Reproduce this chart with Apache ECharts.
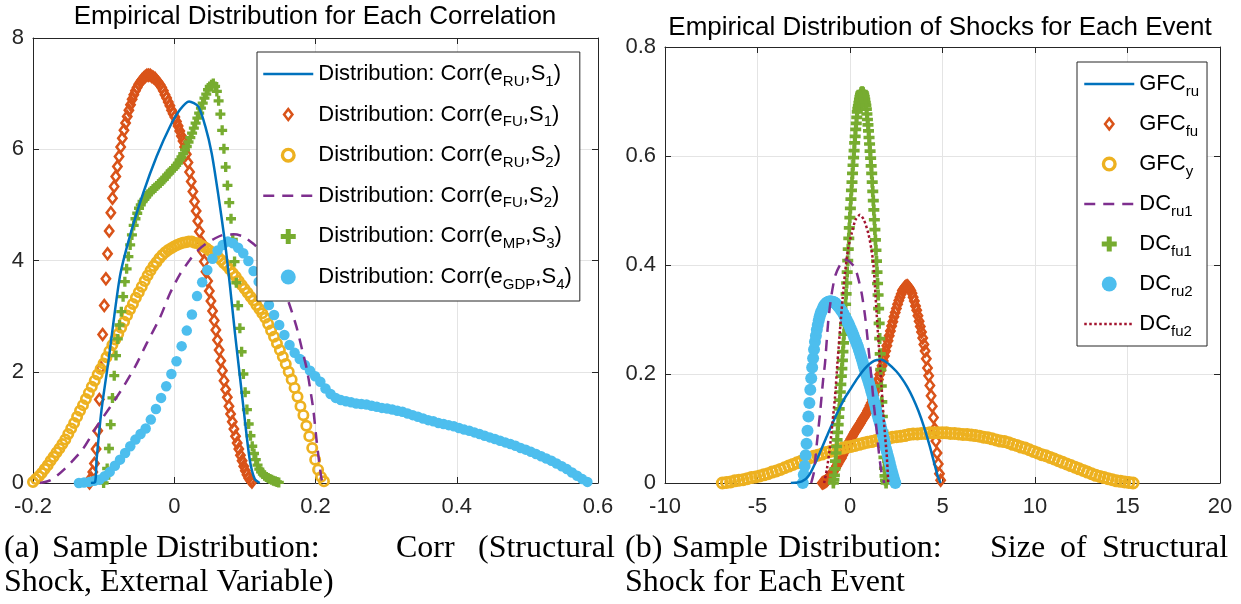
<!DOCTYPE html>
<html><head><meta charset="utf-8">
<script src="https://cdn.jsdelivr.net/npm/echarts@6/dist/echarts.min.js"></script>
<style>html,body{margin:0;padding:0;background:#fff}#c{width:1241px;height:604px}</style>
</head><body><div id="c"></div><script>
// ---------------- DATA: panel (a) ----------------
const aNames = ['Distribution: Corr(e_{RU},S_{1})','Distribution: Corr(e_{FU},S_{1})','Distribution: Corr(e_{RU},S_{2})','Distribution: Corr(e_{FU},S_{2})','Distribution: Corr(e_{MP},S_{3})','Distribution: Corr(e_{GDP},S_{4})'];
// solid line: x / y pairs
const aS1X = [-0.118,-0.112,-0.110,-0.103,-0.093,-0.077,-0.063,-0.044,-0.025,-0.006,0.008,0.021,0.034,0.044,0.053,0.062,0.072,0.079,0.086,0.093,0.100,0.107,0.114,0.121];
const aS1Y = [0,0.02,0.41,1.31,2.21,3.71,4.43,5.21,5.87,6.41,6.71,6.86,6.77,6.41,5.93,5.21,4.31,3.53,2.69,1.91,1.13,0.41,0.07,0];
// marker series: 100-point evenly spaced density grid [start, end] + values
const aS2Range = [-0.120, 0.110];
const aS2Y = [0.00,0.09,0.20,0.35,0.61,0.94,1.50,2.07,2.67,3.19,3.67,4.12,4.53,4.86,5.12,5.33,5.51,5.69,5.87,6.04,6.20,6.34,6.47,6.59,6.70,6.80,6.90,6.98,7.05,7.11,7.17,7.21,7.25,7.28,7.31,7.33,7.33,7.33,7.31,7.29,7.27,7.23,7.20,7.16,7.11,7.05,6.98,6.92,6.85,6.78,6.70,6.64,6.58,6.50,6.42,6.33,6.24,6.15,6.04,5.91,5.76,5.59,5.42,5.24,5.06,4.89,4.71,4.52,4.34,4.16,3.98,3.80,3.63,3.45,3.27,3.09,2.92,2.75,2.57,2.39,2.20,2.02,1.84,1.68,1.54,1.38,1.24,1.10,0.97,0.84,0.72,0.61,0.50,0.40,0.30,0.22,0.15,0.09,0.05,0.02];
const aS3Range = [-0.200, 0.212];
const aS3Y = [0.02,0.07,0.12,0.18,0.25,0.32,0.40,0.47,0.55,0.62,0.70,0.78,0.88,0.98,1.08,1.19,1.30,1.40,1.51,1.62,1.73,1.84,1.95,2.05,2.15,2.26,2.37,2.48,2.58,2.68,2.79,2.90,3.01,3.12,3.22,3.33,3.43,3.53,3.63,3.73,3.82,3.90,3.97,4.04,4.10,4.15,4.19,4.22,4.25,4.28,4.30,4.32,4.33,4.34,4.34,4.32,4.31,4.28,4.25,4.22,4.18,4.14,4.10,4.06,4.01,3.95,3.90,3.84,3.77,3.71,3.63,3.56,3.49,3.42,3.35,3.28,3.20,3.13,3.05,2.97,2.86,2.74,2.63,2.51,2.39,2.27,2.14,2.00,1.86,1.71,1.55,1.38,1.22,1.03,0.84,0.63,0.42,0.24,0.11,0.03];
const aS4X = [-0.19,-0.175,-0.157,-0.13,-0.11,-0.09,-0.072,-0.055,-0.039,-0.02,-0.006,0.008,0.022,0.035,0.046,0.058,0.069,0.084,0.098,0.112,0.126,0.138,0.15,0.162,0.173,0.181,0.188,0.193,0.197,0.202,0.206,0.209,0.212];
const aS4Y = [0,0.05,0.23,0.6,1.01,1.38,1.73,2.1,2.51,2.98,3.41,3.75,4.01,4.2,4.31,4.4,4.46,4.47,4.43,4.3,4.13,3.92,3.65,3.25,2.81,2.4,2.03,1.65,1.31,0.71,0.3,0.05,0];
const aS5Range = [-0.100, 0.148];
const aS5Y = [0.00,0.09,0.26,0.62,1.05,1.53,1.93,2.29,2.59,2.84,3.08,3.35,3.62,3.85,4.07,4.28,4.46,4.63,4.75,4.85,4.94,5.00,5.06,5.10,5.14,5.18,5.22,5.25,5.28,5.31,5.34,5.37,5.40,5.43,5.46,5.50,5.54,5.57,5.61,5.64,5.67,5.71,5.75,5.81,5.86,5.92,5.99,6.05,6.13,6.21,6.29,6.38,6.47,6.56,6.65,6.74,6.83,6.92,6.99,7.07,7.13,7.16,7.18,7.13,7.04,6.87,6.63,6.34,6.01,5.68,5.35,5.04,4.75,4.38,3.98,3.60,3.19,2.78,2.36,1.96,1.63,1.32,1.06,0.85,0.66,0.53,0.42,0.32,0.25,0.20,0.16,0.13,0.11,0.09,0.07,0.06,0.04,0.03,0.02,0.01];
const aS6Range = [-0.135, 0.585];
const aS6Y = [0.00,0.01,0.02,0.04,0.06,0.12,0.20,0.31,0.42,0.54,0.66,0.78,0.88,0.98,1.14,1.33,1.53,1.74,1.96,2.19,2.46,2.74,3.03,3.36,3.61,3.83,4.03,4.18,4.28,4.34,4.31,4.23,4.13,3.99,3.81,3.62,3.40,3.20,3.02,2.84,2.66,2.48,2.34,2.23,2.12,2.02,1.92,1.82,1.70,1.60,1.53,1.49,1.47,1.45,1.43,1.42,1.41,1.39,1.37,1.35,1.34,1.32,1.30,1.28,1.25,1.22,1.19,1.16,1.13,1.11,1.08,1.06,1.04,1.02,0.99,0.96,0.94,0.91,0.88,0.85,0.82,0.79,0.76,0.73,0.70,0.67,0.63,0.60,0.56,0.52,0.48,0.44,0.40,0.35,0.30,0.25,0.19,0.13,0.07,0.02];
const aXAxis = {min: -0.2, max: 0.6, interval: 0.2};
const aYAxis = {min: 0, max: 8, interval: 2};

// ---------------- DATA: panel (b) ----------------
const bNames = ['GFC_{ru}','GFC_{fu}','GFC_{y}','DC_{ru1}','DC_{fu1}','DC_{ru2}','DC_{fu2}'];
const bS1X = [-3.2,-2.6,-2.2,-1.7,-1.2,-0.7,-0.3,0.0,0.4,0.8,1.3,1.7,2.1,2.5,2.8,3.1,3.4,3.7,4.0,4.3,4.55,4.75,4.9];
const bS1Y = [0,0.003,0.015,0.05,0.09,0.128,0.155,0.171,0.192,0.21,0.224,0.226,0.218,0.205,0.192,0.176,0.156,0.132,0.103,0.069,0.037,0.012,0];
const bS2Range = [-1.5, 4.9];
const bS2Y = [0.000,0.001,0.002,0.003,0.005,0.008,0.011,0.014,0.017,0.020,0.024,0.027,0.031,0.035,0.039,0.043,0.046,0.051,0.055,0.060,0.064,0.069,0.073,0.077,0.081,0.085,0.089,0.093,0.096,0.100,0.103,0.107,0.110,0.114,0.118,0.121,0.125,0.128,0.133,0.137,0.142,0.147,0.153,0.161,0.168,0.176,0.183,0.190,0.199,0.207,0.215,0.224,0.233,0.242,0.252,0.261,0.270,0.279,0.288,0.296,0.305,0.313,0.320,0.328,0.335,0.341,0.347,0.353,0.356,0.359,0.361,0.362,0.360,0.357,0.353,0.348,0.341,0.334,0.325,0.317,0.307,0.297,0.287,0.277,0.266,0.254,0.242,0.228,0.211,0.197,0.179,0.160,0.141,0.120,0.099,0.077,0.055,0.035,0.017,0.005];
const bS3Range = [-6.9, 15.3];
const bS3Y = [0.000,0.001,0.002,0.004,0.005,0.006,0.008,0.010,0.011,0.013,0.015,0.017,0.020,0.022,0.025,0.028,0.031,0.034,0.037,0.040,0.043,0.046,0.049,0.051,0.053,0.056,0.058,0.060,0.062,0.064,0.066,0.067,0.069,0.071,0.073,0.075,0.076,0.078,0.079,0.081,0.082,0.084,0.085,0.086,0.087,0.089,0.090,0.090,0.091,0.091,0.092,0.092,0.092,0.092,0.092,0.091,0.091,0.090,0.089,0.089,0.088,0.087,0.086,0.084,0.083,0.081,0.079,0.077,0.076,0.074,0.071,0.069,0.066,0.064,0.061,0.058,0.055,0.052,0.050,0.047,0.044,0.041,0.038,0.035,0.032,0.029,0.026,0.023,0.020,0.017,0.014,0.012,0.010,0.008,0.006,0.004,0.003,0.002,0.001,0.000];
const bS4X = [-2.1,-1.95,-1.8,-1.62,-1.45,-1.35,-1.17,-1.0,-0.8,-0.54,-0.3,-0.1,0.1,0.27,0.45,0.63,0.8,0.9,1.05,1.17,1.3,1.44,1.58,1.71,1.85];
const bS4Y = [0,0.02,0.07,0.128,0.19,0.22,0.299,0.345,0.38,0.4,0.41,0.408,0.402,0.395,0.375,0.348,0.31,0.281,0.23,0.189,0.14,0.097,0.05,0.018,0];
const bS5Range = [-0.9, 1.95];
const bS5Y = [0.000,0.006,0.014,0.026,0.040,0.055,0.067,0.079,0.093,0.107,0.121,0.136,0.152,0.167,0.181,0.196,0.210,0.225,0.241,0.257,0.273,0.291,0.308,0.328,0.347,0.367,0.387,0.408,0.429,0.449,0.468,0.487,0.504,0.521,0.537,0.552,0.568,0.583,0.597,0.610,0.624,0.636,0.649,0.660,0.671,0.681,0.687,0.692,0.698,0.704,0.709,0.713,0.716,0.717,0.718,0.717,0.716,0.713,0.709,0.704,0.698,0.693,0.686,0.677,0.667,0.657,0.646,0.634,0.622,0.609,0.596,0.582,0.568,0.552,0.535,0.518,0.501,0.483,0.465,0.446,0.427,0.407,0.387,0.366,0.345,0.320,0.293,0.265,0.237,0.208,0.178,0.149,0.122,0.095,0.067,0.047,0.027,0.013,0.005,0.000];
const bS6Range = [-2.55, 2.45];
const bS6Y = [0.000,0.015,0.031,0.051,0.072,0.096,0.122,0.147,0.171,0.192,0.212,0.229,0.245,0.259,0.270,0.281,0.290,0.298,0.305,0.311,0.315,0.319,0.323,0.326,0.328,0.330,0.331,0.332,0.333,0.333,0.333,0.333,0.332,0.332,0.331,0.330,0.328,0.326,0.324,0.322,0.320,0.317,0.315,0.312,0.309,0.305,0.302,0.299,0.295,0.292,0.288,0.284,0.280,0.276,0.272,0.267,0.263,0.259,0.254,0.250,0.244,0.239,0.233,0.228,0.222,0.216,0.210,0.204,0.198,0.193,0.188,0.182,0.176,0.170,0.164,0.158,0.151,0.145,0.138,0.132,0.125,0.119,0.113,0.107,0.100,0.093,0.086,0.079,0.071,0.063,0.057,0.050,0.044,0.037,0.030,0.023,0.017,0.011,0.005,0.000];
const bS7X = [-1.4,-1.25,-1.08,-0.95,-0.81,-0.68,-0.54,-0.4,-0.27,-0.1,0.09,0.3,0.54,0.75,0.99,1.15,1.26,1.35,1.44,1.53,1.62,1.71,1.8,1.9,1.98,2.07];
const bS7Y = [0,0.025,0.067,0.11,0.158,0.22,0.281,0.338,0.385,0.43,0.458,0.483,0.492,0.483,0.458,0.43,0.403,0.36,0.311,0.265,0.22,0.173,0.128,0.085,0.054,0];
const bXAxis = {min: -10, max: 20, interval: 5};
const bYAxis = {min: 0, max: 0.8, interval: 0.2};

// ---------------- TEXT ----------------
const titleA = 'Empirical Distribution for Each Correlation';
const titleB = 'Empirical Distribution of Shocks for Each Event';
const capA1 = ['(a)','Sample','Distribution:','Corr','(Structural'];
const capA2 = 'Shock, External Variable)';
const capB1 = ['(b)','Sample','Distribution:','Size','of','Structural'];
const capB2 = 'Shock for Each Event';

// ---------------- STYLE / LAYOUT ----------------
const F = 'Liberation Sans', SERIF = 'Liberation Serif', AX = '#262626', GRIDC = '#e4e4e4';
const C = {blue:'#0072BD', orange:'#D95319', yellow:'#EDB120', purple:'#7E2F8E', green:'#77AC30', cyan:'#4DBEEE', red:'#A2142F'};
const SYM = {
  diamond: 'path://M5,0L10,6.5L5,13L0,6.5Z M5,3.6L2.75,6.5L5,9.4L7.25,6.5Z',
  ring: 'path://M6,0A6,6 0 1 1 6,12A6,6 0 1 1 6,0Z M6,2.7A3.3,3.3 0 1 0 6,9.3A3.3,3.3 0 1 0 6,2.7Z',
  plus: 'path://M3,0H6V3H9V6H6V9H3V6H0V3H3Z'
};
const capA1X = [4,52,156,396,478], capB1X = [625,672,778,990,1060,1102];
const CAPSIZE = 32;

function grid(range, ys){ const n = ys.length; return ys.map((y,i)=>[range[0]+(range[1]-range[0])*i/(n-1), y]); }
function pairs(xs, ys){ return xs.map((x,i)=>[x, ys[i]]); }

function axesX(gi, r){
  return [
    {type:'value', gridIndex:gi, min:r.min, max:r.max, interval:r.interval, position:'bottom',
     axisLine:{show:true,onZero:false,lineStyle:{color:AX,width:1}},
     axisTick:{show:true,inside:true,length:6,lineStyle:{color:AX}},
     axisLabel:{show:true,color:AX,fontSize:22,fontFamily:F,margin:13,hideOverlap:false},
     splitLine:{show:true,lineStyle:{color:GRIDC,width:1}}},
    {type:'value', gridIndex:gi, min:r.min, max:r.max, interval:r.interval, position:'top',
     axisLine:{show:true,onZero:false,lineStyle:{color:AX,width:1}},
     axisTick:{show:true,inside:true,length:6,lineStyle:{color:AX}},
     axisLabel:{show:false}, splitLine:{show:false}}
  ];
}
function axesY(gi, r){
  return [
    {type:'value', gridIndex:gi, min:r.min, max:r.max, interval:r.interval, position:'left',
     axisLine:{show:true,onZero:false,lineStyle:{color:AX,width:1}},
     axisTick:{show:true,inside:true,length:6,lineStyle:{color:AX}},
     axisLabel:{show:true,color:AX,fontSize:22,fontFamily:F,margin:9,hideOverlap:false},
     splitLine:{show:true,lineStyle:{color:GRIDC,width:1}}},
    {type:'value', gridIndex:gi, min:r.min, max:r.max, interval:r.interval, position:'right',
     axisLine:{show:true,onZero:false,lineStyle:{color:AX,width:1}},
     axisTick:{show:true,inside:true,length:6,lineStyle:{color:AX}},
     axisLabel:{show:false}, splitLine:{show:false}}
  ];
}
function lineS(name, ax, data, color, type){
  return {type:'line', name, xAxisIndex:ax, yAxisIndex:ax, data, symbol:'none', showSymbol:false, smooth:0.25,
    lineStyle:{color, width:2.5, type:type||'solid', cap:'butt'}, itemStyle:{color, opacity:0},
    silent:true, animation:false, emphasis:{disabled:true}};
}
function dotS(name, ax, data, color, symbol, size){
  return {type:'scatter', name, xAxisIndex:ax, yAxisIndex:ax, data, symbol, symbolSize:size,
    itemStyle:{color, opacity:1}, silent:true, animation:false, emphasis:{disabled:true}};
}
const rich = {
  n:{fontSize:22, fontFamily:F, color:'#000', lineHeight:26, verticalAlign:'middle'},
  s:{fontSize:15, fontFamily:F, color:'#000', lineHeight:26, verticalAlign:'middle', padding:[15,0,0,0]}
};
function fmt(name){ return '{n|' + name.replace(/_\{([^}]*)\}/g, '}{s|$1}{n|') + '}'; }
function legend(names, left, top, gap, padding){
  return {data:names, orient:'vertical', left, top, padding, itemGap:gap, itemWidth:50, itemHeight:15,
    borderColor:AX, borderWidth:1, backgroundColor:'#fff', selectedMode:false, symbolKeepAspect:true,
    formatter:fmt, textStyle:{fontSize:22, fontFamily:F, color:'#000', rich},
    itemStyle:{borderWidth:0}, lineStyle:{width:2.5}, z:10};
}
const gText = (text, x, y, size, fam, align) => ({type:'text', x, y, silent:true,
  style:{text, fill:'#000', fontSize:size, fontFamily:fam, align:align||'left', textAlign:align||'left', verticalAlign:'middle', textVerticalAlign:'middle'}});

const graphic = [gText(titleA, 315, 17, 26, F, 'center'), gText(titleB, 940, 28, 26, F, 'center'),
  gText(capA2, 4, 583, CAPSIZE, SERIF), gText(capB2, 625, 583, CAPSIZE, SERIF)];
capA1.forEach((w,i)=>graphic.push(gText(w, capA1X[i], 549, CAPSIZE, SERIF)));
capB1.forEach((w,i)=>graphic.push(gText(w, capB1X[i], 549, CAPSIZE, SERIF)));

const option = {
  animation:false, backgroundColor:'#fff',
  grid:[
    {left:33, top:38, width:565, height:445, containLabel:false, outerBoundsMode:'none'},
    {left:665, top:47, width:555, height:436, containLabel:false, outerBoundsMode:'none'}
  ],
  xAxis:[...axesX(0, aXAxis), ...axesX(1, bXAxis)],
  yAxis:[...axesY(0, aYAxis), ...axesY(1, bYAxis)],
  legend:[legend(aNames, 257, 52, 10.6, [7,8,9,5]), legend(bNames, 1077, 62, 10, [7,8,7,6])],
  series:[
    lineS(aNames[0], 0, pairs(aS1X,aS1Y), C.blue),
    dotS(aNames[1], 0, grid(aS2Range,aS2Y), C.orange, SYM.diamond, [11.5,15]),
    dotS(aNames[2], 0, grid(aS3Range,aS3Y), C.yellow, SYM.ring, 12),
    lineS(aNames[3], 0, pairs(aS4X,aS4Y), C.purple, [11,8]),
    dotS(aNames[4], 0, grid(aS5Range,aS5Y), C.green, SYM.plus, 10),
    dotS(aNames[5], 0, grid(aS6Range,aS6Y), C.cyan, 'circle', 10.5),
    lineS(bNames[0], 2, pairs(bS1X,bS1Y), C.blue),
    dotS(bNames[1], 2, grid(bS2Range,bS2Y), C.orange, SYM.diamond, [11.5,15]),
    dotS(bNames[2], 2, grid(bS3Range,bS3Y), C.yellow, SYM.ring, 13),
    lineS(bNames[3], 2, pairs(bS4X,bS4Y), C.purple, [11,8]),
    dotS(bNames[4], 2, grid(bS5Range,bS5Y), C.green, SYM.plus, 11),
    dotS(bNames[5], 2, grid(bS6Range,bS6Y), C.cyan, 'circle', 12),
    lineS(bNames[6], 2, pairs(bS7X,bS7Y), C.red, [2.5,2.5])
  ],
  graphic
};
const chart = echarts.init(document.getElementById('c'), null, {renderer:'canvas'});
chart.setOption(option);
</script></body></html>
